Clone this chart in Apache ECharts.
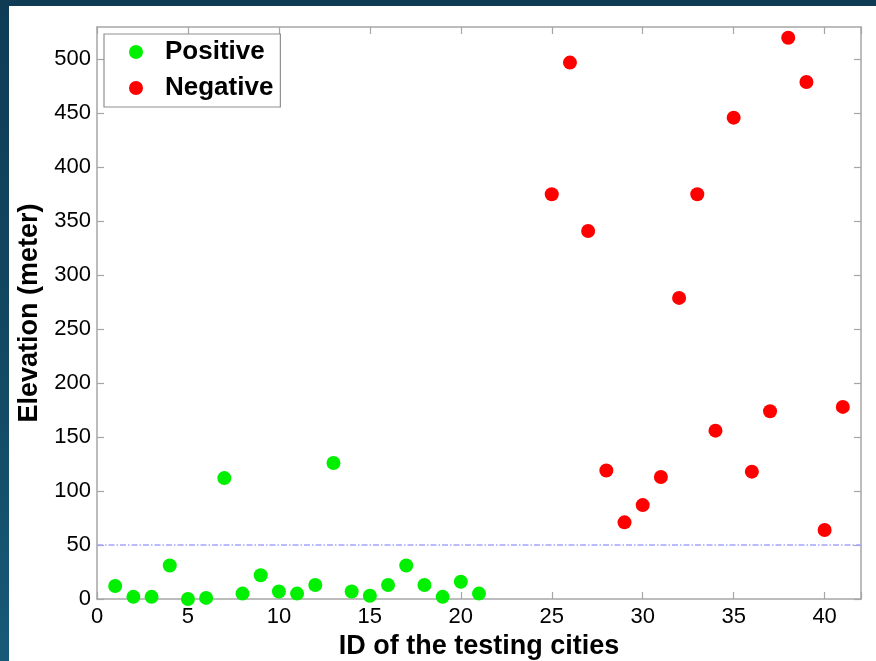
<!DOCTYPE html>
<html>
<head>
<meta charset="utf-8">
<script src="https://cdn.jsdelivr.net/npm/echarts@6/dist/echarts.min.js"></script>
<style>
  html, body { margin: 0; padding: 0; }
  body {
    width: 876px; height: 661px; overflow: hidden;
    background: linear-gradient(180deg, #0f3c54 0%, #134a64 60%, #175a78 100%);
    position: relative;
  }
  #chart {
    position: absolute; left: 9px; top: 6px; width: 867px; height: 655px;
    background: #ffffff;
  }
</style>
</head>
<body>
<div id="chart"></div>
<script>
// Testing cities: IDs and elevations (meters)
const positiveIds = [1, 2, 3, 4, 5, 6, 7, 8, 9, 10, 11, 12, 13, 14, 15, 16, 17, 18, 19, 20, 21];
const positiveElev = [12, 2, 2, 31, 0, 1, 112, 5, 22, 7, 5, 13, 126, 7, 3, 13, 31, 13, 2, 16, 5];
const negativeIds = [25, 26, 27, 28, 29, 30, 31, 32, 33, 34, 35, 36, 37, 38, 39, 40, 41];
const negativeElev = [375, 497, 341, 119, 71, 87, 113, 279, 375, 156, 446, 118, 174, 520, 479, 64, 178];
const thresholdElev = 50;
const xTicks = [0, 5, 10, 15, 20, 25, 30, 35, 40];
const yTicks = [0, 50, 100, 150, 200, 250, 300, 350, 400, 450, 500];

const font = 'Liberation Sans, Arial, sans-serif';
const frameColor = '#a6a6a6';
const tickStyle = { color: frameColor, width: 1.2 };

const chart = echarts.init(document.getElementById('chart'), null, { renderer: 'canvas' });

const baseX = {
  type: 'value', min: 0, max: 42, interval: 5,
  axisLine: { show: true, onZero: false, lineStyle: { color: frameColor, width: 1.5 } },
  axisTick: { show: true, inside: true, length: 7, lineStyle: tickStyle },
  splitLine: { show: false }
};
const baseY = {
  type: 'value', min: 0, max: 530, interval: 50,
  axisLine: { show: true, onZero: false, lineStyle: { color: frameColor, width: 1.5 } },
  axisTick: { show: true, inside: true, length: 7, customValues: yTicks, lineStyle: tickStyle },
  splitLine: { show: false }
};

chart.setOption({
  animation: false,
  backgroundColor: '#ffffff',
  grid: { left: 88, right: 15, top: 21, bottom: 62, outerBoundsMode: 'none', containLabel: false },
  legend: {
    left: 95, top: 28,
    orient: 'vertical',
    itemGap: 10,
    itemWidth: 14, itemHeight: 14,
    padding: [5, 7, 6, 25],
    borderColor: '#909090', borderWidth: 1.2, borderRadius: 0,
    backgroundColor: '#ffffff',
    textStyle: {
      fontFamily: font, fontSize: 26, fontWeight: 'bold', color: '#000',
      lineHeight: 26, padding: [0, 0, 0, 17]
    },
    data: [
      { name: 'Positive', icon: 'circle' },
      { name: 'Negative', icon: 'circle' }
    ]
  },
  xAxis: [
    Object.assign({}, baseX, {
      position: 'bottom',
      name: 'ID of the testing cities',
      nameLocation: 'middle', nameGap: 31,
      nameTextStyle: { fontFamily: font, fontSize: 27, fontWeight: 'bold', color: '#000' },
      axisLabel: { fontFamily: font, fontSize: 22, color: '#000', margin: 7, customValues: xTicks }
    }),
    Object.assign({}, baseX, { position: 'top', axisLabel: { show: false } })
  ],
  yAxis: [
    Object.assign({}, baseY, {
      position: 'left',
      name: 'Elevation (meter)',
      nameLocation: 'middle', nameGap: 51,
      nameTextStyle: { fontFamily: font, fontSize: 27, fontWeight: 'bold', color: '#000' },
      axisLabel: { fontFamily: font, fontSize: 22, color: '#000', margin: 6, customValues: yTicks }
    }),
    Object.assign({}, baseY, { position: 'right', axisLabel: { show: false } })
  ],
  series: [
    {
      name: 'Positive', type: 'scatter',
      symbol: 'circle', symbolSize: 14,
      itemStyle: { color: '#00f000', opacity: 1 },
      data: positiveIds.map((id, i) => [id, positiveElev[i]]),
      z: 3,
      markLine: {
        silent: true, symbol: 'none',
        label: { show: false },
        lineStyle: { color: '#a4a4ff', width: 1.5, type: [6, 2, 1.5, 2], opacity: 1 },
        data: [{ yAxis: thresholdElev }]
      }
    },
    {
      name: 'Negative', type: 'scatter',
      symbol: 'circle', symbolSize: 14,
      itemStyle: { color: '#ff0000', opacity: 1 },
      data: negativeIds.map((id, i) => [id, negativeElev[i]]),
      z: 3
    }
  ]
});
</script>
</body>
</html>
